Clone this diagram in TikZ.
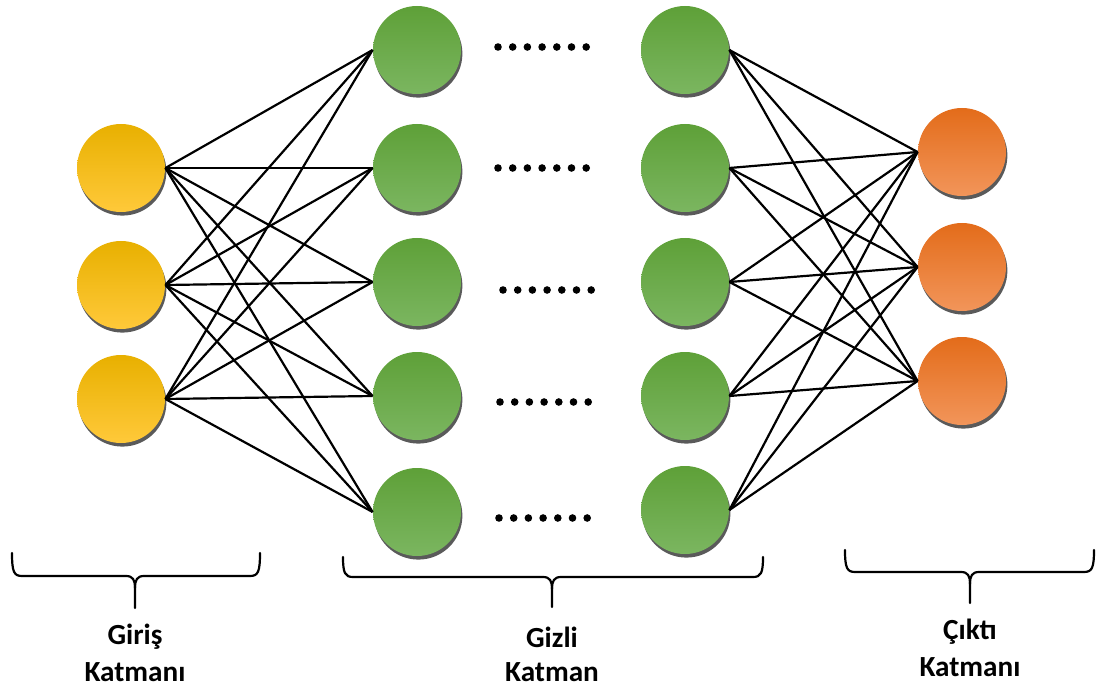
\documentclass[tikz,border=0pt]{standalone}
\usepackage{fontspec}
\setmainfont{Carlito}
\usetikzlibrary{shadows}
\definecolor{yelTop}{HTML}{E8B000}
\definecolor{yelMid}{HTML}{FFC000}
\definecolor{yelBot}{HTML}{FFC93A}
\definecolor{grnTop}{HTML}{5EA038}
\definecolor{grnMid}{HTML}{69AC42}
\definecolor{grnBot}{HTML}{7BB660}
\definecolor{orgTop}{HTML}{E36C1A}
\definecolor{orgMid}{HTML}{F07D2A}
\definecolor{orgBot}{HTML}{F2955A}
\definecolor{shade}{HTML}{5A5A5A}
\begin{document}
\begin{tikzpicture}[x=0.5pt,y=-0.5pt,
  neuron/.style={circle, minimum size=44pt, inner sep=0pt,
    drop shadow={shadow xshift=0.7pt, shadow yshift=-1.8pt, fill=shade, opacity=1}},
  inneuron/.style={neuron, top color=yelTop, middle color=yelMid, bottom color=yelBot},
  hidneuron/.style={neuron, top color=grnTop, middle color=grnMid, bottom color=grnBot},
  outneuron/.style={neuron, top color=orgTop, middle color=orgMid, bottom color=orgBot},
  link/.style={black, line width=1.1pt},
  bracepath/.style={black, line width=1.1pt, line cap=round, line join=round},
  layerlabel/.style={font=\bfseries\fontsize{14.6pt}{17pt}\selectfont, inner sep=0pt}]
\useasboundingbox (0,0) rectangle (1099,690);

% input layer
\foreach \n/\y in {1/168, 2/285, 3/399}
  \node[inneuron] (i\n) at (121,\y) {};

% first hidden column
\foreach \n/\y in {1/50, 2/168, 3/282, 4/396, 5/512}
  \node[hidneuron] (h\n) at (417,\y) {};

% last hidden column
\foreach \n/\y in {1/50, 2/168, 3/282, 4/396, 5/510}
  \node[hidneuron] (g\n) at (685,\y) {};

% output layer
\foreach \n/\y in {1/152, 2/267, 3/381}
  \node[outneuron] (o\n) at (962,\y) {};

% weights
\foreach \i in {1,2,3}
  \foreach \j in {1,...,5}
    \draw[link] (i\i.east) -- (h\j.west);
\foreach \j in {1,...,5}
  \foreach \k in {1,2,3}
    \draw[link] (g\j.east) -- (o\k.west);

% ellipsis dots between the hidden columns
\foreach \x/\y in {498/47, 498/168, 503/290, 500/402, 499/518}
  \foreach \d in {0,...,6}
    \fill (\x+14.7*\d,\y) circle (1.9pt);

% braces under each layer
\foreach \l/\r/\m/\t/\h/\b in {12/260/135/553/576/608, 343/763/552/557/577/607, 845/1094/970/550/572/603}
  \draw[bracepath] (\l,\t) .. controls (\l,\h-4) and (\l+2,\h) .. (\l+10,\h)
    -- (\m-9,\h) .. controls (\m-2,\h) and (\m,\h+4) .. (\m,\h+12) -- (\m,\b);
\foreach \l/\r/\m/\t/\h/\b in {12/260/135/553/576/608, 343/763/552/557/577/607, 845/1094/970/550/572/603}
  \draw[bracepath] (\r,\t) .. controls (\r,\h-4) and (\r-2,\h) .. (\r-10,\h)
    -- (\m+9,\h) .. controls (\m+2,\h) and (\m,\h+4) .. (\m,\h+12);

% layer names
\node[layerlabel] (in1) at (135,637) {Giriş};
\node[layerlabel] (in2) at (135,672) {Katmanı};
\node[layerlabel] (hd1) at (552,637) {Gizli};
\node[layerlabel] (hd2) at (552,672) {Katman};
\node[layerlabel] (ou1) at (970,632) {Çıktı};
\node[layerlabel] (ou2) at (970,667) {Katmanı};
\end{tikzpicture}
\end{document}
